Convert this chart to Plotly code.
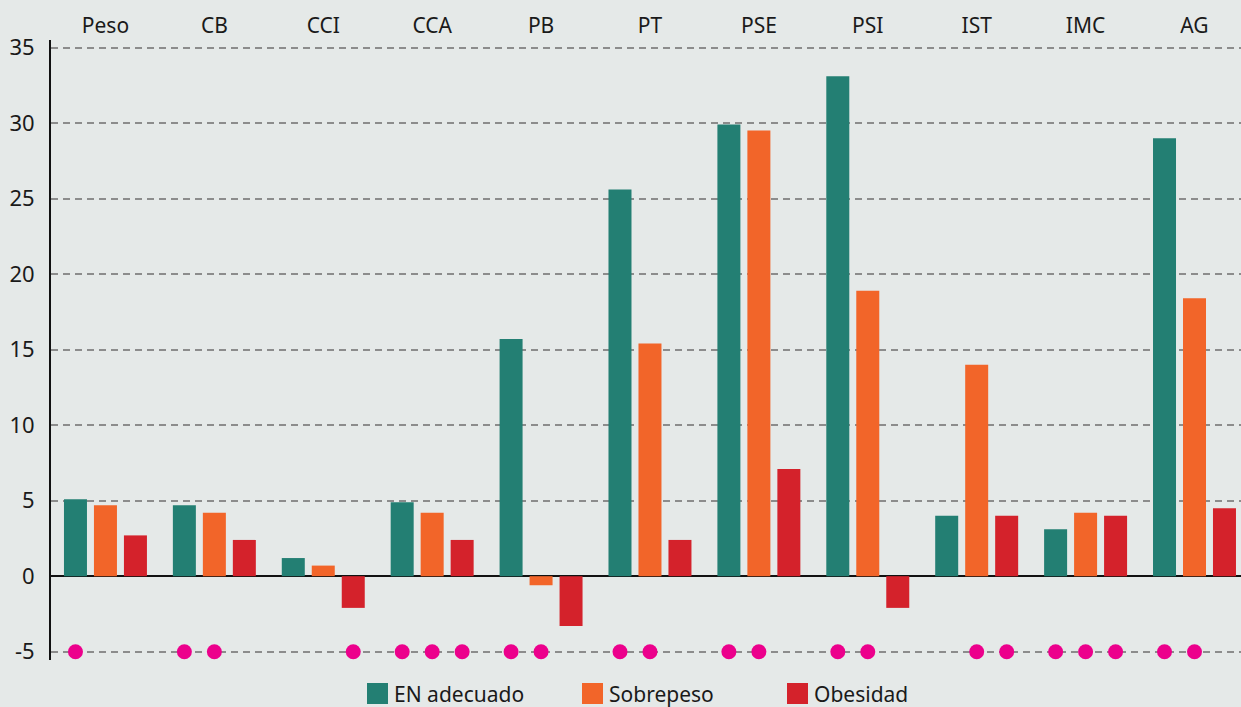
import plotly.graph_objects as go

categories = ["Peso", "CB", "CCI", "CCA", "PB", "PT", "PSE", "PSI", "IST", "IMC", "AG"]
series_names = ["EN adecuado", "Sobrepeso", "Obesidad"]
en_adecuado = [5.1, 4.7, 1.2, 4.9, 15.7, 25.6, 29.9, 33.1, 4.0, 3.1, 29.0]
sobrepeso = [4.7, 4.2, 0.7, 4.2, -0.6, 15.4, 29.5, 18.9, 14.0, 4.2, 18.4]
obesidad = [2.7, 2.4, -2.1, 2.4, -3.3, 2.4, 7.1, -2.1, 4.0, 4.0, 4.5]
# significance markers (1 = dot shown at -5)
sig_en = [1, 1, 0, 1, 1, 1, 1, 1, 0, 1, 1]
sig_sob = [0, 1, 0, 1, 1, 1, 1, 1, 1, 1, 1]
sig_obe = [0, 0, 1, 1, 0, 0, 0, 0, 1, 1, 0]
sig_level = -5
y_ticks = [-5, 0, 5, 10, 15, 20, 25, 30, 35]
y_tick_labels = ["-5", "0", "5", "10", "15", "20", "25", "30", "35"]

colors = ["#237F73", "#F26529", "#D4222B"]
dot_color = "#EC008C"
bg = "#E5E9E8"
font_family = "Noto Sans, Open Sans, sans-serif"

fig = go.Figure()
for name, vals, col, g in zip(series_names, [en_adecuado, sobrepeso, obesidad], colors, ["a", "b", "c"]):
    fig.add_trace(go.Bar(x=categories, y=vals, name=name, marker_color=col,
                         marker_line_width=0, offsetgroup=g, showlegend=False))

for flags, g in zip([sig_en, sig_sob, sig_obe], ["a", "b", "c"]):
    fig.add_trace(go.Scatter(x=categories, y=[sig_level if f else None for f in flags],
                             mode="markers", offsetgroup=g, showlegend=False,
                             marker=dict(color=dot_color, size=15), cliponaxis=False))

W, H = 1241, 707
ml, mr, mt, mb = 51, 0, 40, 47
pw = W - ml - mr

fig.update_layout(
    width=W, height=H,
    margin=dict(l=ml, r=mr, t=mt, b=mb),
    paper_bgcolor=bg, plot_bgcolor=bg,
    barmode="group", bargap=0.174, bargroupgap=0.233,
    scattermode="group", scattergap=0.174,
    font=dict(family=font_family, size=22, color="#1a1a1a"),
    xaxis=dict(side="top", type="category", range=[-0.5, 10.427], showgrid=False,
               showline=False, ticks="", zeroline=False,
               tickfont=dict(size=21), ticklabelstandoff=2),
    yaxis=dict(range=[-5.55, 35.5], tickvals=y_ticks, ticktext=y_tick_labels, showgrid=True,
               gridcolor="#8C8C8C", gridwidth=1.5, griddash="7px,5px",
               zeroline=True, zerolinecolor="#111111", zerolinewidth=2,
               showline=True, linecolor="#111111", linewidth=2,
               ticks="", tickfont=dict(size=22), ticklabelstandoff=10),
)

# custom legend (large square swatches)
legend_items = [(367, series_names[0], colors[0]), (582, series_names[1], colors[1]), (787, series_names[2], colors[2])]
sq = 21
ytop_px, ybot_px = 683, 704
def px2x(px):
    return (px - ml) / pw
def py2y(py):
    return (H - mb - py) / (H - mt - mb)
for x_px, label, col in legend_items:
    fig.add_shape(type="rect", xref="paper", yref="paper",
                  x0=px2x(x_px), x1=px2x(x_px + sq), y0=py2y(ybot_px), y1=py2y(ytop_px),
                  fillcolor=col, line_width=0)
    fig.add_annotation(xref="paper", yref="paper", x=px2x(x_px + sq + 4), y=py2y((ytop_px + ybot_px) / 2),
                       text=label, showarrow=False, xanchor="left", yanchor="middle",
                       font=dict(size=21, color="#1a1a1a"))

fig.write_html("out.html", config={"displayModeBar": False},
               post_script="document.body.style.margin='0';document.body.style.background='%s';" % bg)
